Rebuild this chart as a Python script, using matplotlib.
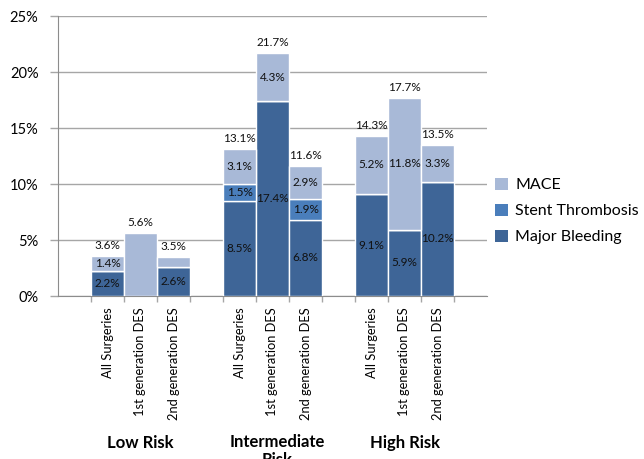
import matplotlib
matplotlib.use("Agg")
import matplotlib.pyplot as plt
from matplotlib.patches import Patch
from matplotlib.transforms import blended_transform_factory
from matplotlib.ticker import FuncFormatter, FixedLocator

plt.rcParams['font.family'] = ['Lato', 'DejaVu Sans']

# Categories (three per risk group)
groups = ["Low Risk", "Intermediate\nRisk", "High Risk"]
categories = ["All Surgeries", "1st generation DES", "2nd generation DES"] * 3

# Stacked segment heights (%)
major_bleeding = [2.2, 0.0, 2.6, 8.5, 17.4, 6.8, 9.1, 5.9, 10.2]
stent_thrombosis = [0.0, 0.0, 0.0, 1.5, 0.0, 1.9, 0.0, 0.0, 0.0]
mace = [1.4, 5.6, 0.9, 3.1, 4.3, 2.9, 5.2, 11.8, 3.3]
totals = [3.6, 5.6, 3.5, 13.1, 21.7, 11.6, 14.3, 17.7, 13.5]

# Which segments carry an inside label
mace_labeled = [True, False, False, True, True, True, True, True, True]

c_bleed = "#3E6597"
c_thromb = "#4A7EBB"
c_mace = "#A8B9D7"

fig = plt.figure(figsize=(6.44, 4.59), dpi=100)
ax = fig.add_axes([58 / 644, 1 - 296 / 459, (487 - 58) / 644, (296 - 16) / 459])

pos = []
for g in range(3):
    for k in range(3):
        pos.append(g * 4 + k)

bottom2 = [a + b for a, b in zip(major_bleeding, stent_thrombosis)]
ax.bar(pos, major_bleeding, width=1.0, color=c_bleed, edgecolor="white", linewidth=1.0, zorder=3)
ax.bar(pos, stent_thrombosis, width=1.0, bottom=major_bleeding, color=c_thromb,
       edgecolor="white", linewidth=1.0, zorder=3)
ax.bar(pos, mace, width=1.0, bottom=bottom2, color=c_mace, edgecolor="white", linewidth=1.0, zorder=3)

lab_fs = 8.5
for i, x in enumerate(pos):
    if major_bleeding[i] > 0:
        ax.text(x, major_bleeding[i] / 2, f"{major_bleeding[i]:.1f}%", ha="center", va="center",
                fontsize=lab_fs, color="#111111", zorder=5)
    if stent_thrombosis[i] > 0:
        ax.text(x, major_bleeding[i] + stent_thrombosis[i] / 2, f"{stent_thrombosis[i]:.1f}%",
                ha="center", va="center", fontsize=lab_fs, color="#111111", zorder=5)
    if mace_labeled[i]:
        ax.text(x, bottom2[i] + mace[i] / 2, f"{mace[i]:.1f}%", ha="center", va="center",
                fontsize=lab_fs, color="#111111", zorder=5)
    ax.text(x, totals[i] + 0.45, f"{totals[i]:.1f}%", ha="center", va="bottom",
            fontsize=lab_fs, color="#111111", zorder=5)

ax.set_xlim(-1.5, 11.5)
ax.set_ylim(0, 25)
ax.set_yticks([0, 5, 10, 15, 20, 25])
ax.yaxis.set_major_formatter(FuncFormatter(lambda v, p: f"{v:.0f}%"))
ax.grid(axis="y", color="#A6A6A6", linewidth=1.0, zorder=0)
ax.set_axisbelow(True)

ax.set_xticks(pos)
ax.set_xticklabels(categories, rotation=90, fontsize=9.3, va="top")
ax.tick_params(axis="x", which="major", length=0, pad=8)
edges = sorted(set([p - 0.5 for p in pos] + [p + 0.5 for p in pos]))
ax.xaxis.set_minor_locator(FixedLocator(edges))
ax.tick_params(axis="x", which="minor", length=4, color="#A6A6A6", width=1)
ax.tick_params(axis="y", length=6, color="#A6A6A6", width=1, labelsize=10.5, pad=8)

for side in ["top", "right"]:
    ax.spines[side].set_visible(False)
ax.spines["left"].set_color("#8C8C8C")
ax.spines["bottom"].set_color("#8C8C8C")

tr = blended_transform_factory(ax.transData, fig.transFigure)
ax.text(1, 1 - 443 / 459, groups[0], transform=tr, ha="center", va="center",
        fontsize=12, fontweight="bold")
ax.text(5.15, 1 - 434 / 459, groups[1], transform=tr, ha="center", va="top",
        fontsize=12, fontweight="bold", linespacing=1.15)
ax.text(9, 1 - 443 / 459, groups[2], transform=tr, ha="center", va="center",
        fontsize=12, fontweight="bold")

handles = [Patch(facecolor=c_mace), Patch(facecolor=c_thromb), Patch(facecolor=c_bleed)]
fig.legend(handles, ["MACE", "Stent Thrombosis", "Major Bleeding"],
           loc="center left", bbox_to_anchor=(481 / 644, 1 - 211 / 459),
           frameon=False, fontsize=11.5, handlelength=0.8, handleheight=0.8,
           handletextpad=0.45, labelspacing=0.7)

fig.savefig("out.png", dpi=100)
